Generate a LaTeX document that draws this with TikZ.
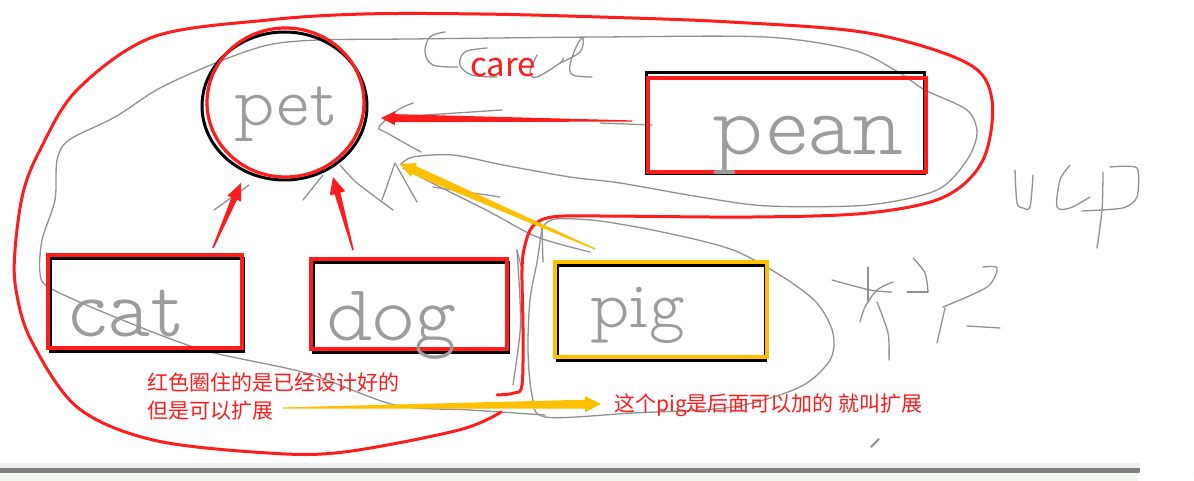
\documentclass[tikz,border=0pt]{standalone}
\usepackage{fontspec}
\usetikzlibrary{calc,shapes.geometric}
\newfontfamily\cjk{Noto Sans CJK SC}
\newfontfamily\hand{lmmonoproplt10-regular.otf}
\definecolor{myred}{RGB}{255,28,28}
\definecolor{myorange}{RGB}{255,192,0}
\definecolor{pen}{RGB}{145,145,145}
\definecolor{barg}{RGB}{128,128,128}
\definecolor{paleg}{RGB}{241,247,236}
\newcommand\taperarrow[7]{%
  \coordinate (tb) at ($(#3)!#7!(#2)$);
  \fill[#1] ($(#2)!#4!90:(#3)$) -- ($(tb)!#5!90:(#3)$) -- ($(tb)!#6!90:(#3)$) -- (#3)
    -- ($(tb)!#6!-90:(#3)$) -- ($(tb)!#5!-90:(#3)$) -- ($(#2)!#4!-90:(#3)$) -- cycle;}
\tikzset{
  penline/.style={draw=pen, line width=1.3pt, line cap=round, line join=round},
  redline/.style={draw=myred, line width=3pt, line cap=round, line join=round},
  boxblack/.style={draw=black, line width=3pt, inner sep=0pt, outer sep=0pt},
  boxred/.style={draw=myred, line width=3.2pt, inner sep=0pt, outer sep=0pt},
  boxorange/.style={draw=myorange, line width=3.2pt, inner sep=0pt, outer sep=0pt},
  handtxt/.style={text=pen!90, inner sep=0pt, anchor=base west},
  redtxt/.style={text=myred, inner sep=0pt, anchor=base west, font=\cjk\fontsize{21pt}{21pt}\selectfont},
}
\begin{document}
\begin{tikzpicture}[x=1pt,y=-1pt]
\useasboundingbox (0,0) rectangle (1194,481);
\fill[white] (0,0) rectangle (1194,481);

% ---------- gray hand-drawn strokes ----------
\draw[penline] plot[smooth,tension=0.5] coordinates {(400,165) (413,157) (453,155) (503,165) (570,177) (620,183) (700,197) (768,206) (868,205) (937,190) (967,160) (977,133) (967,110) (925,90) (898,72) (853,50) (765,37) (600,37) (410,39) (318,40) (268,45) (218,62) (160,88) (115,117) (69,140) (57,160) (55,200) (42,240) (40,273) (50,288) (115,317) (203,350) (306,373) (395,405) (470,410) (545,415)};
\draw[penline] plot[smooth,tension=0.5] coordinates {(542,228) (555,219) (600,221) (667,233) (733,250) (783,277) (817,303) (833,333) (830,360) (800,387) (733,407) (633,413) (545,417) (532,395) (528,350) (530,300) (537,262) (542,228)};
\draw[penline] plot[smooth,tension=0.5] coordinates {(517,250) (520,300) (520,333) (513,385)};
\draw[penline] (542,227) -- (543,262);
\draw[penline] (517,250) -- (522,270);
\draw[penline] plot[smooth,tension=0.5] coordinates {(403,168) (440,187) (490,212) (537,237) (590,252)};
\draw[penline] (433,187) -- (500,197);
\draw[penline] (303,200) -- (323,175);
\draw[penline] plot[smooth,tension=0.4] coordinates {(340,165) (357,183) (393,210)};
\draw[penline] (382,200) -- (395,163) -- (417,202);
\draw[penline] (214,210) -- (249,185);
\draw[penline] plot[smooth,tension=0.5] coordinates {(413,103) (398,110) (379,127) (387,133) (421,152)};
\draw[penline] (395,117) -- (502,110);
\draw[penline] (600,123) -- (652,125);
% handwritten "Care"
\draw[penline] plot[smooth,tension=0.6] coordinates {(445,32) (430,37) (425,52) (433,65) (458,67)};
\draw[penline] plot[smooth,tension=0.6] coordinates {(487,48) (465,52) (460,65) (472,75) (497,77)};
\draw[penline] plot[smooth,tension=0.6] coordinates {(537,55) (530,72) (537,77) (560,63) (563,58)};
\draw[penline] plot[smooth,tension=0.6] coordinates {(560,63) (580,52) (583,38) (577,45) (570,65) (573,75) (592,77)};
% handwritten "ucp"
\draw[penline] plot[smooth,tension=0.5] coordinates {(1015,170) (1017,203) (1023,208) (1030,207) (1033,175)};
\draw[penline] plot[smooth,tension=0.5] coordinates {(1070,165) (1060,180) (1057,207) (1070,208) (1090,197)};
\draw[penline] plot[smooth,tension=0.5] coordinates {(1103,172) (1102,210) (1097,248)};
\draw[penline] plot[smooth,tension=0.4] coordinates {(1110,167) (1137,168) (1137,197) (1123,208) (1082,211)};
% handwritten expansion glyph
\draw[penline] plot[smooth,tension=0.5] coordinates {(832,280) (870,290) (892,292)};
\draw[penline] (868,267) -- (868,302);
\draw[penline] plot[smooth,tension=0.5] coordinates {(893,282) (877,290) (865,307) (860,322)};
\draw[penline] plot[smooth,tension=0.5] coordinates {(877,302) (888,333) (889,360)};
\draw[penline] plot[smooth,tension=0.5] coordinates {(913,258) (925,273) (928,292)};
\draw[penline] (907,292) -- (928,292);
\draw[penline] plot[smooth,tension=0.5] coordinates {(983,267) (997,268) (987,287) (943,307)};
\draw[penline] (945,308) -- (937,343);
\draw[penline] (967,326) -- (1000,328);
\draw[draw=pen, line width=2pt, line cap=round] (871,447) -- (879,439);

% ---------- red enclosing curve ----------
\draw[redline] plot[smooth,tension=0.55] coordinates {(497,395) (514,393) (522,385) (523,330) (522,270) (525,245) (533,226) (552,217) (600,216) (753,217) (868,213) (944,197) (983,160) (992,100) (967,63) (868,33) (730,22) (600,17) (480,14) (364,14) (268,20) (153,37) (77,90) (40,150) (23,193) (15,250) (16,290) (31,340) (77,407) (153,440) (268,453) (344,452) (459,430) (501,412)};

% ---------- nodes ----------
\node[boxblack, ellipse, minimum width=165pt, minimum height=148pt] (petS) at (284.5,106) {};
\node[boxred, ellipse, minimum width=157pt, minimum height=149pt] (pet) at (285.5,102.5) {};
\node[boxblack, minimum width=278pt, minimum height=101pt] (peanS) at (785,123.5) {};
\node[boxred, minimum width=278pt, minimum height=94pt] (pean) at (787,125) {};
\node[boxblack, minimum width=193pt, minimum height=93pt] (catS) at (146.5,304.5) {};
\node[boxred, minimum width=194pt, minimum height=93pt] (cat) at (145,301.5) {};
\node[boxblack, minimum width=195pt, minimum height=90pt] (dogS) at (410.5,307) {};
\node[boxred, minimum width=196pt, minimum height=90pt] (dog) at (409,304) {};
\node[boxblack, minimum width=208pt, minimum height=95pt] (pigS) at (661,312.5) {};
\node[boxorange, minimum width=212pt, minimum height=95pt] (pig) at (661,309.5) {};

% handwritten words
\node[handtxt, font=\hand\fontsize{70pt}{70pt}\selectfont] (petT) at (234,126) {pet};
\node[handtxt, font=\hand\fontsize{84pt}{84pt}\selectfont] (catT) at (68,336) {cat};
\node[handtxt, font=\hand\fontsize{80pt}{80pt}\selectfont] (dogT) at (326,340) {dog};
\node[handtxt, font=\hand\fontsize{68pt}{68pt}\selectfont] (pigT) at (590,327) {pig};
\node[handtxt, font=\hand\fontsize{88pt}{88pt}\selectfont] (peanT) at (712,155) {pean};

% ---------- arrows ----------
\coordinate (a1s) at (632,121); \coordinate (a1e) at (381,118);
\taperarrow{myred}{a1s}{a1e}{0.6pt}{4pt}{7pt}{14pt}
\coordinate (a2s) at (213,248); \coordinate (a2e) at (241,183);
\taperarrow{myred}{a2s}{a2e}{0.8pt}{3pt}{7.5pt}{17pt}
\coordinate (a3s) at (353,250); \coordinate (a3e) at (333,177);
\taperarrow{myred}{a3s}{a3e}{0.8pt}{3pt}{8pt}{17pt}
\coordinate (a4s) at (595,249); \coordinate (a4e) at (400,164);
\taperarrow{myorange}{a4s}{a4e}{0.7pt}{4.5pt}{7.5pt}{15pt}
\coordinate (a5s) at (283,408); \coordinate (a5e) at (601,404);
\taperarrow{myorange}{a5s}{a5e}{0.6pt}{4.5pt}{8pt}{16pt}

% ---------- red typed labels ----------
\node[redtxt, font=\cjk\fontsize{33pt}{33pt}\selectfont] (care) at (470,77) {care};
\node[redtxt] (note1) at (147,390) {红色圈住的是已经设计好的};
\node[redtxt] (note2) at (147,418) {但是可以扩展};
\node[redtxt] (note3) at (614,411) {这个pig是后面可以加的 就叫扩展};

% ---------- bottom bar ----------
\fill[gray!12] (0,463) rectangle (1140,468);
\fill[barg] (0,468) rectangle (1140,472.5);
\fill[paleg] (0,472.5) rectangle (1194,481);
\fill[white] (1138,481) -- (1138,476) to[out=90,in=180] (1146,470) -- (1186,470) to[out=0,in=90] (1194,476) -- (1194,481) -- cycle;
\draw[white, line width=3pt, line cap=round] (1150,463) -- (1156,471);
\draw[white, line width=3pt, line cap=round] (1176,463) -- (1170,471);
\end{tikzpicture}
\end{document}
